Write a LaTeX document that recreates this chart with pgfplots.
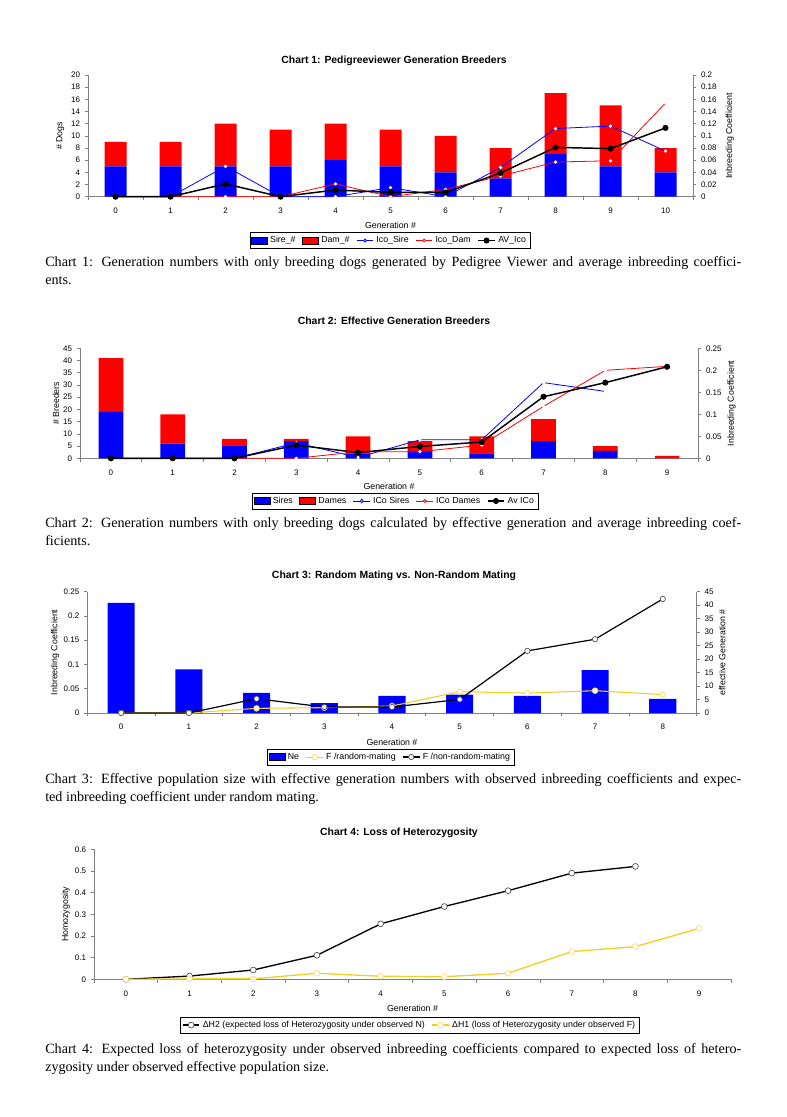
\documentclass[border=0pt]{standalone}
\usepackage{fontspec}
\setmainfont{Liberation Serif}
\newfontfamily\arial{Liberation Sans}
\usepackage{pgfplots}
\pgfplotsset{compat=1.18}

\definecolor{xlblue}{RGB}{0,0,255}
\definecolor{xlred}{RGB}{255,0,0}
\definecolor{xlyellow}{RGB}{238,208,40}
\definecolor{xlgray}{RGB}{128,128,128}

\newcommand{\xlf}{\arial\fontsize{6}{7}\selectfont}
\newcommand{\lblf}{\arial\fontsize{6.6}{7.5}\selectfont}
\newcommand{\ttlf}{\arial\bfseries\fontsize{7.8}{9}\selectfont}
\newcommand{\capf}{\fontsize{10.6}{12.5}\selectfont}

\pgfplotsset{
  xl/.style={
    scale only axis,
    axis line style={xlgray, line width=0.5pt},
    every tick/.style={xlgray, line width=0.5pt},
    tick align=outside,
    major tick length=2.5pt,
    minor tick length=2.5pt,
    tick label style={font=\xlf, text=black},
    label style={font=\lblf, text=black},
    /pgf/number format/assume math mode=true,
    /pgf/number format/fixed,
    /pgf/number format/precision=2,
    /pgf/number format/1000 sep={},
    legend style={draw=black, line width=0.4pt, font=\lblf, inner sep=1pt,
      legend columns=-1, anchor=center,
      /tikz/every even column/.append style={column sep=3pt}},
    legend image code/.code={\draw[mark repeat=2,mark phase=2]
      plot coordinates {(0cm,0cm) (0.22cm,0cm) (0.44cm,0cm)};},
  },
  xbase/.style={xl, axis x line*=bottom,
    major x tick style={draw=none},
    xticklabel style={yshift=-2.5pt}},
  barkey/.style={legend image code/.code={%
    \draw[fill=#1, draw=black, line width=0.3pt] (0cm,-0.09cm) rectangle (0.42cm,0.09cm);}},
}

\begin{document}
\begin{tikzpicture}
\begin{scope}[x=0.75pt,y=-0.75pt]
\path[use as bounding box] (0,0) rectangle (787,1117);
\node[font=\ttlf] at (394,61) {Chart 1: Pedigreeviewer Generation Breeders};
\node[font=\ttlf] at (394,321) {Chart 2: Effective Generation Breeders};
\node[font=\ttlf] at (394,576) {Chart 3: Random Mating vs. Non-Random Mating};
\node[font=\ttlf] at (399,833) {Chart 4: Loss of Heterozygosity};

\node[font=\capf, anchor=base west, inner sep=0] at (45,266) {\makebox[522pt][s]{Chart 1: Generation numbers with only breeding dogs generated by Pedigree Viewer and average inbreeding coeffici-}};
\node[font=\capf, anchor=base west, inner sep=0] at (45,284.5) {ents.};
\node[font=\capf, anchor=base west, inner sep=0] at (45,527) {\makebox[522pt][s]{Chart 2: Generation numbers with only breeding dogs calculated by effective generation and average inbreeding coef-}};
\node[font=\capf, anchor=base west, inner sep=0] at (45,545.5) {ficients.};
\node[font=\capf, anchor=base west, inner sep=0] at (45,783) {\makebox[522pt][s]{Chart 3: Effective population size with effective generation numbers with observed inbreeding coefficients and expec-}};
\node[font=\capf, anchor=base west, inner sep=0] at (45,801.5) {ted inbreeding coefficient under random mating.};
\node[font=\capf, anchor=base west, inner sep=0] at (45,1053) {\makebox[522pt][s]{Chart 4: Expected loss of heterozygosity under observed inbreeding coefficients compared to expected loss of hetero-}};
\node[font=\capf, anchor=base west, inner sep=0] at (45,1071.5) {zygosity under observed effective population size.};
\end{scope}

% ---------------- Chart 1 ----------------
\begin{axis}[xbase, axis y line*=left,
  at={(88*0.75pt,-196.7*0.75pt)}, width=453.75pt, height=91.3pt,
  xmin=-0.5, xmax=10.5, xtick={0,...,10}, minor xtick={-0.5,0.5,...,10.5},
  ymin=0, ymax=20, ytick={0,2,...,20},
  ybar stacked, bar width=0.4,
  xlabel={Generation \#}, ylabel={\# Dogs},
  xlabel style={at={(axis description cs:0.5,-0.2325)}, anchor=center},
  ylabel style={at={(axis description cs:-0.046,0.5)}, anchor=center}]
\addplot[fill=xlblue, draw=none] coordinates {(0,5)(1,5)(2,5)(3,5)(4,6)(5,5)(6,4)(7,3)(8,7)(9,5)(10,4)};
\addplot[fill=xlred, draw=none] coordinates {(0,4)(1,4)(2,7)(3,6)(4,6)(5,6)(6,6)(7,5)(8,10)(9,10)(10,4)};
\end{axis}
\begin{axis}[xl, axis x line=none, axis y line*=right, clip=false,
  at={(88*0.75pt,-196.7*0.75pt)}, width=453.75pt, height=91.3pt,
  xmin=-0.5, xmax=10.5,
  ymin=0, ymax=0.2, ytick={0,0.02,0.04,0.06,0.08,0.1,0.12,0.14,0.16,0.18,0.2},
  ylabel={Inbreeding Coefficient},
  ylabel style={at={(axis description cs:1.061,0.5)}, anchor=center},
  legend style={at={(0.499,-0.36)}}]
\addplot[xlblue, line width=0.6pt, mark=*, mark size=0.9pt, mark options={fill=white, draw=white}, forget plot]
  coordinates {(0,0)(1,0)(2,0.05)(3,0)(4,0)(5,0.015)(6,0)(7,0.048)(8,0.112)(9,0.116)(10,0.075)};
\addplot[xlred, line width=0.6pt, mark=*, mark size=0.9pt, mark options={fill=white, draw=white}, forget plot]
  coordinates {(0,0)(1,0)(2,0)(3,0)(4,0.021)(5,0)(6,0.012)(7,0.034)(8,0.057)(9,0.059)(10,0.154)};
\addplot[black, line width=1.1pt, mark=*, mark size=1.7pt, forget plot]
  coordinates {(0,0)(1,0)(2,0.021)(3,0)(4,0.011)(5,0.007)(6,0.007)(7,0.039)(8,0.081)(9,0.079)(10,0.113)};
\addlegendimage{barkey=xlblue}
\addlegendentry{Sire\_\#}
\addlegendimage{barkey=xlred}
\addlegendentry{Dam\_\#}
\addlegendimage{xlblue, line width=0.6pt, mark=*, mark size=1.1pt, mark options={fill=white, draw=xlblue}}
\addlegendentry{Ico\_Sire}
\addlegendimage{xlred, line width=0.6pt, mark=*, mark size=1.1pt, mark options={fill=white, draw=xlred}}
\addlegendentry{Ico\_Dam}
\addlegendimage{black, line width=1.1pt, mark=*, mark size=1.7pt}
\addlegendentry{AV\_Ico}
\end{axis}

% ---------------- Chart 2 ----------------
\begin{axis}[xbase, axis y line*=left,
  at={(80*0.75pt,-458.3*0.75pt)}, width=463.5pt, height=82.5pt,
  xmin=-0.5, xmax=9.5, xtick={0,...,9}, minor xtick={-0.5,0.5,...,9.5},
  ymin=0, ymax=45, ytick={0,5,...,45},
  ybar stacked, bar width=0.4,
  xlabel={Generation \#}, ylabel={\# Breeders},
  xlabel style={at={(axis description cs:0.5,-0.252)}, anchor=center},
  ylabel style={at={(axis description cs:-0.039,0.5)}, anchor=center}]
\addplot[fill=xlblue, draw=none] coordinates {(0,19)(1,6)(2,5)(3,7)(4,2)(5,3)(6,2)(7,7)(8,3)(9,0)};
\addplot[fill=xlred, draw=none] coordinates {(0,22)(1,12)(2,3)(3,1)(4,7)(5,4)(6,7)(7,9)(8,2)(9,1)};
\end{axis}
\begin{axis}[xl, axis x line=none, axis y line*=right, clip=false,
  at={(80*0.75pt,-458.3*0.75pt)}, width=463.5pt, height=82.5pt,
  xmin=-0.5, xmax=9.5,
  ymin=0, ymax=0.25, ytick={0,0.05,0.1,0.15,0.2,0.25},
  ylabel={Inbreeding Coefficient},
  ylabel style={at={(axis description cs:1.0545,0.5)}, anchor=center},
  legend style={at={(0.51,-0.388)}}]
\addplot[xlblue, line width=0.6pt, mark=diamond*, mark size=1.1pt, mark options={fill=white, draw=white}, forget plot]
  coordinates {(0,0)(1,0)(2,0)(3,0.035)(4,0.002)(5,0.042)(6,0.042)(7,0.172)(8,0.152)};
\addplot[xlred, line width=0.6pt, mark=*, mark size=0.9pt, mark options={fill=white, draw=white}, forget plot]
  coordinates {(0,0)(1,0)(2,0)(3,0)(4,0.015)(5,0.015)(6,0.03)(7,0.118)(8,0.2)(9,0.209)};
\addplot[black, line width=1.1pt, mark=*, mark size=1.7pt, forget plot]
  coordinates {(0,0)(1,0)(2,0)(3,0.03)(4,0.013)(5,0.027)(6,0.037)(7,0.14)(8,0.172)(9,0.208)};
\addlegendimage{barkey=xlblue}
\addlegendentry{Sires}
\addlegendimage{barkey=xlred}
\addlegendentry{Dames}
\addlegendimage{xlblue, line width=0.6pt, mark=diamond*, mark size=1.4pt, mark options={fill=white, draw=xlblue}}
\addlegendentry{ICo Sires}
\addlegendimage{xlred, line width=0.6pt, mark=*, mark size=1.1pt, mark options={fill=white, draw=xlred}}
\addlegendentry{ICo Dames}
\addlegendimage{black, line width=1.1pt, mark=*, mark size=1.7pt}
\addlegendentry{Av ICo}
\end{axis}

% ---------------- Chart 3 ----------------
\begin{axis}[xbase, axis y line*=right,
  at={(87.3*0.75pt,-713*0.75pt)}, width=457pt, height=91pt,
  xmin=-0.5, xmax=8.5, xtick={0,...,8}, minor xtick={-0.5,0.5,...,8.5},
  ymin=0, ymax=45, ytick={0,5,...,45},
  ybar, bar width=0.4,
  xlabel={Generation \#}, ylabel={effective Generation \#},
  xlabel style={at={(axis description cs:0.5,-0.239)}, anchor=center},
  ylabel style={at={(axis description cs:1.042,0.5)}, anchor=center}]
\addplot[fill=xlblue, draw=none] coordinates {(0,40.8)(1,16.2)(2,7.5)(3,3.7)(4,6.4)(5,6.8)(6,6.4)(7,15.9)(8,5.2)};
\end{axis}
\begin{axis}[xl, axis x line=none, axis y line*=left, clip=false,
  at={(87.3*0.75pt,-713*0.75pt)}, width=457pt, height=91pt,
  xmin=-0.5, xmax=8.5,
  ymin=0, ymax=0.25, ytick={0,0.05,0.1,0.15,0.2,0.25},
  ylabel={Inbreeding Coefficient},
  ylabel style={at={(axis description cs:-0.053,0.5)}, anchor=center},
  legend style={at={(0.498,-0.363)}}]
\addlegendimage{barkey=xlblue}
\addlegendentry{Ne}
\addplot[xlyellow, line width=0.8pt, mark=*, mark size=2pt, mark options={fill=white, draw=xlyellow!60}]
  coordinates {(0,0)(1,0)(2,0.0096)(3,0.011)(4,0.0144)(5,0.044)(6,0.041)(7,0.046)(8,0.038)};
\addlegendentry{F /random-mating}
\addplot[black, line width=0.9pt, mark=*, mark size=2pt, mark options={fill=white, draw=black!70, line width=0.5pt}]
  coordinates {(0,0)(1,0)(2,0.0295)(3,0.0123)(4,0.0123)(5,0.028)(6,0.128)(7,0.152)(8,0.235)};
\addlegendentry{F /non-random-mating}
\end{axis}

% ---------------- Chart 4 ----------------
\begin{axis}[xbase, axis y line*=left, clip=false,
  at={(94*0.75pt,-979.3*0.75pt)}, width=477.75pt, height=97.5pt,
  xmin=-0.5, xmax=9.5, xtick={0,...,9}, minor xtick={-0.5,0.5,...,9.5},
  ymin=0, ymax=0.6, ytick={0,0.1,0.2,0.3,0.4,0.5,0.6},
  xlabel={Generation \#}, ylabel={Homozygosity},
  xlabel style={at={(axis description cs:0.5,-0.221)}, anchor=center},
  ylabel style={at={(axis description cs:-0.044,0.5)}, anchor=center},
  legend style={at={(0.496,-0.352)}}]
\addplot[black, line width=1pt, mark=*, mark size=2.2pt, mark options={fill=white, draw=black!70, line width=0.5pt}]
  coordinates {(0,0)(1,0.015)(2,0.043)(3,0.111)(4,0.256)(5,0.336)(6,0.409)(7,0.49)(8,0.521)};
\addlegendentry{ΔH2 (expected loss of Heterozygosity under observed N)}
\addplot[xlyellow, line width=1pt, mark=*, mark size=2.2pt, mark options={fill=white, draw=xlyellow!70, line width=0.5pt}]
  coordinates {(0,0)(1,0.002)(2,0.002)(3,0.028)(4,0.014)(5,0.012)(6,0.028)(7,0.128)(8,0.151)(9,0.235)};
\addlegendentry{ΔH1 (loss of Heterozygosity under observed F)}
\end{axis}
\end{tikzpicture}
\end{document}
